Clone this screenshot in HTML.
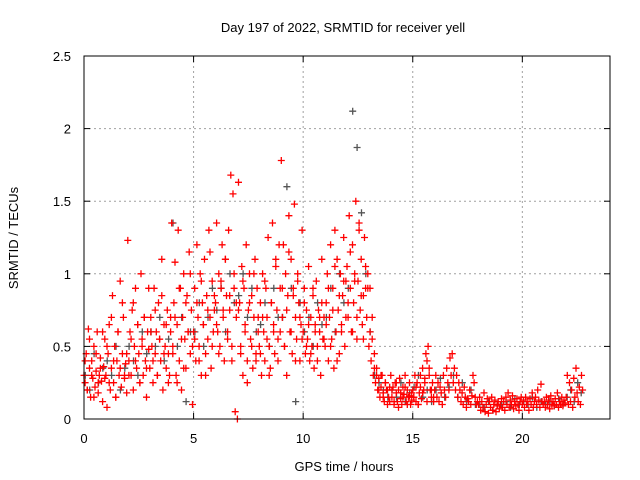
<!DOCTYPE html>
<html><head><meta charset="utf-8"><style>
html,body{margin:0;padding:0;background:#fff;}
svg{display:block;font-family:"Liberation Sans",sans-serif;}
</style></head><body>
<svg id="chart" width="640" height="480" viewBox="0 0 640 480" xmlns="http://www.w3.org/2000/svg">
<text x="343" y="32" font-size="13" text-anchor="middle">Day 197 of 2022, SRMTID for receiver yell</text>
<text x="344" y="471" font-size="13" text-anchor="middle">GPS time / hours</text>
<text transform="translate(18,238) rotate(-90)" font-size="13" text-anchor="middle">SRMTID / TECUs</text>
<g id="grid"></g>
<g id="axes"></g>
<g id="marks"></g>
<rect x="84" y="56" width="526" height="363" fill="none" stroke="#000" stroke-width="1"/>
</svg>
<script>
const xTicks=[0,5,10,15,20];
const yTicks=[0,0.5,1,1.5,2,2.5];
const yTickLabels=["0","0.5","1","1.5","2","2.5"];
const redA=[
[0.3,0.25,0.45,0.2,0.62,0.35,0.15,0.4,0.28,0.5,0.22,0.33,0.6,0.18,0.3,0.42,0.26,0.12,0.36,0.55],
[0.3,0.08,0.45,0.65,0.2,0.35,0.85,0.25,0.5,0.15,0.4,0.6,0.3,0.95,0.22,0.45,0.7,0.28,0.38,0.18],
[1.23,0.4,0.6,0.3,0.75,0.2,0.5,0.9,0.35,0.65,0.45,0.25,1.0,0.55,0.3,0.7,0.4,0.15,0.6,0.48],
[0.35,0.7,0.5,0.25,0.9,0.45,0.6,0.3,0.8,0.55,0.4,1.1,0.2,0.65,0.5,0.35,0.75,0.45,0.3,0.6],
[1.35,0.5,0.8,1.08,0.3,0.65,1.3,0.4,0.9,0.2,0.7,1.0,0.55,0.35,0.85,0.6,1.15,0.45,0.75,0.1],
[0.6,0.9,0.4,1.2,0.7,0.5,1.0,0.3,0.8,0.65,1.1,0.45,0.85,0.55,1.3,0.7,0.35,0.95,0.6,0.75],
[0.8,1.35,0.6,1.0,0.5,0.9,1.2,0.7,0.4,1.1,0.85,0.6,1.3,0.75,1.68,0.5,1.55,0.9,0.05,0.7],
[0.0,1.63,0.8,0.5,1.05,0.3,0.9,0.65,1.2,0.4,0.75,1.0,0.55,0.85,0.35,0.7,1.1,0.45,0.9,0.6],
[0.5,0.8,0.3,1.0,0.6,0.4,0.9,0.7,1.25,0.5,0.35,0.8,1.35,0.6,0.45,1.1,0.75,0.55,1.2,0.9],
[1.78,0.7,1.2,0.5,1.0,0.3,0.85,1.4,0.6,1.1,0.45,0.9,1.48,0.7,0.55,1.0,0.8,0.4,0.65,1.3],
[0.6,0.9,0.45,0.75,0.55,1.05,0.4,0.7,0.5,0.85,0.35,0.65,0.95,0.5,0.75,0.6,0.3,0.8,0.55,0.7],
[0.5,0.8,1.0,0.4,0.7,1.2,0.55,0.9,0.35,1.3,0.6,1.1,0.75,0.45,1.0,0.65,0.85,1.25,0.5,0.95],
[1.05,0.7,1.4,0.9,0.6,1.2,0.8,1.0,1.5,0.55,0.95,1.3,0.75,1.1,0.65,0.85,1.25,0.9,0.7,1.0],
[0.5,0.6,0.4,0.55,0.3,0.35,0.25,0.3,0.2,0.28,0.15,0.22,0.3,0.18,0.12,0.25,0.2,0.1,0.15,0.22],
[0.3,0.15,0.22,0.1,0.25,0.18,0.12,0.2,0.28,0.14,0.1,0.22,0.17,0.3,0.12,0.2,0.15,0.25,0.1,0.18],
[0.2,0.15,0.3,0.12,0.25,0.1,0.18,0.22,0.14,0.35,0.2,0.28,0.45,0.4,0.5,0.3,0.2,0.15,0.25,0.12],
[0.2,0.3,0.15,0.25,0.12,0.22,0.18,0.1,0.3,0.2,0.15,0.35,0.25,0.2,0.42,0.3,0.45,0.25,0.35,0.2],
[0.3,0.15,0.25,0.2,0.12,0.18,0.1,0.22,0.15,0.08,0.14,0.12,0.2,0.1,0.16,0.3,0.25,0.15,0.1,0.12],
[0.1,0.15,0.06,0.12,0.08,0.18,0.05,0.1,0.14,0.04,0.12,0.08,0.15,0.06,0.1,0.13,0.05,0.09,0.12,0.07],
[0.1,0.14,0.08,0.12,0.06,0.15,0.1,0.18,0.08,0.13,0.1,0.16,0.07,0.12,0.09,0.14,0.1,0.06,0.12,0.15],
[0.1,0.13,0.08,0.15,0.1,0.12,0.06,0.14,0.1,0.18,0.08,0.12,0.15,0.1,0.2,0.13,0.08,0.24,0.12,0.1],
[0.12,0.08,0.15,0.1,0.13,0.07,0.16,0.1,0.12,0.09,0.14,0.1,0.18,0.08,0.12,0.1,0.15,0.09,0.13,0.11],
[0.15,0.3,0.1,0.25,0.12,0.2,0.08,0.28,0.15,0.35,0.18,0.12,0.22,0.1,0.3,0.2]
];
const redB=[
[0.4,0.2,0.55,0.3,0.15,0.45,0.25,0.35,0.6,0.28],
[0.5,0.25,0.7,0.4,0.15,0.6,0.35,0.8,0.3,0.45],
[0.3,0.55,0.8,0.4,0.65,0.25,0.5,0.7,0.35,0.9],
[0.6,0.4,0.75,0.3,0.55,0.85,0.45,0.65,0.25,0.7],
[0.45,0.7,0.25,0.9,0.55,0.35,0.8,0.6,1.0,0.5],
[0.55,0.8,0.4,0.95,0.65,0.3,0.75,1.15,0.5,0.85],
[0.65,0.45,0.95,0.75,1.1,0.55,0.85,0.4,1.0,0.8],
[0.75,0.45,0.95,0.6,0.25,0.8,0.5,1.0,0.4,0.7],
[0.45,0.7,0.95,0.55,0.3,0.8,0.65,1.05,0.4,0.6],
[0.9,0.5,0.75,1.15,0.6,0.85,0.4,0.95,0.7,0.55],
[0.8,0.5,0.65,0.45,0.9,0.6,0.4,0.7,1.1,0.55],
[0.65,0.9,0.5,0.75,1.05,0.4,0.85,0.6,0.95,0.7],
[0.8,1.15,0.6,0.95,0.7,1.35,0.85,0.55,1.05,0.9],
[0.9,0.7,0.45,0.35,0.2,0.3,0.15,0.25,0.2,0.12],
[0.2,0.12,0.25,0.08,0.18,0.15,0.22,0.1,0.16,0.13],
[0.15,0.22,0.1,0.3,0.18,0.25,0.12,0.35,0.2,0.15]
];
const grayA=[
[0.3,0.2,0.45,0.25,0.35],[0.4,0.3,0.5,0.2,0.35],[0.5,0.4,0.3,0.6,0.45],[0.6,0.5,0.7,0.4,0.55],
[1.35,0.5,0.7,0.12,0.6],[0.6,0.8,0.5,0.7,0.9],[0.75,0.9,0.6,1.0,0.8],[0.85,1.0,0.7,0.9,0.6],
[0.65,0.8,0.5,0.9,0.7],[0.7,1.6,0.9,0.12,0.8],[0.6,0.7,0.5,0.8,0.65],[0.7,0.9,0.6,1.0,0.8],
[0.9,2.12,1.87,1.42,1.0],[0.6,0.3,0.25,0.2,0.15],[0.2,0.15,0.25,0.12,0.18],[0.22,0.3,0.15,0.2,0.12],
[0.2,0.28,0.15,0.22,0.3],[0.15,0.25,0.12,0.2,0.1],[0.1,0.08,0.12,0.06,0.1],[0.1,0.12,0.08,0.14,0.1],
[0.12,0.1,0.15,0.08,0.12],[0.1,0.12,0.09,0.14,0.1],[0.15,0.2,0.12,0.25,0.18]
];
const X0=84,X1=610,Y0=419,Y1=56,XMAX=24,YMAX=2.5;
function xs(v){return X0+(v/XMAX)*(X1-X0);}
function ys(v){return Y0-(v/YMAX)*(Y0-Y1);}
const NS="http://www.w3.org/2000/svg";
const grid=document.getElementById('grid'),axes=document.getElementById('axes'),marks=document.getElementById('marks');
function mk(tag,attrs,parent){const e=document.createElementNS(NS,tag);for(const k in attrs)e.setAttribute(k,attrs[k]);parent.appendChild(e);return e;}
xTicks.forEach(t=>{
  const x=xs(t);
  if(t>0){const g=mk('line',{x1:x,y1:Y1,x2:x,y2:Y0,stroke:'#a0a0a0','stroke-dasharray':'2,3'},grid);
  
  }
  const a=mk('line',{x1:x,y1:Y0,x2:x,y2:Y0-6,stroke:'#000'},axes);
  
  
  mk('line',{x1:x,y1:Y1,x2:x,y2:Y1+6,stroke:'#000'},axes);
  const l=mk('text',{x:x,y:443,'font-size':13,'text-anchor':'middle'},axes);l.textContent=t;
  
  
});
yTicks.forEach((t,i)=>{
  const y=ys(t);
  if(t>0&&t<YMAX){const g=mk('line',{x1:X0,y1:y,x2:X1,y2:y,stroke:'#a0a0a0','stroke-dasharray':'2,3'},grid);
  
  }
  const a=mk('line',{x1:X0,y1:y,x2:X0+6,y2:y,stroke:'#000'},axes);
  
  
  mk('line',{x1:X1,y1:y,x2:X1-6,y2:y,stroke:'#000'},axes);
  const l=mk('text',{x:71,y:y+5,'font-size':13,'text-anchor':'end'},axes);l.textContent=yTickLabels[i];
  
  
});
function plot(series,color,name,offset){
  series.forEach((vals,h)=>{
    const n=vals.length, span=(h===22&&vals.length<20)?0.8:1;
    vals.forEach((v,i)=>{
      const t=h+offset*span/n+i*span/n;
      const x=xs(t),y=ys(v);
      const p=mk('path',{d:`M${(x-3.5).toFixed(1)} ${y.toFixed(1)}h7M${x.toFixed(1)} ${(y-3.5).toFixed(1)}v7`,stroke:color,'stroke-width':1.3,fill:'none'},marks);
      
      
    });
  });
}
plot(grayA,'#555555','gray-point',0.3);
plot(redA,'#ff0000','red-point',0);
plot(redB,'#ff0000','red-point',0.5);
</script>
</body></html>
